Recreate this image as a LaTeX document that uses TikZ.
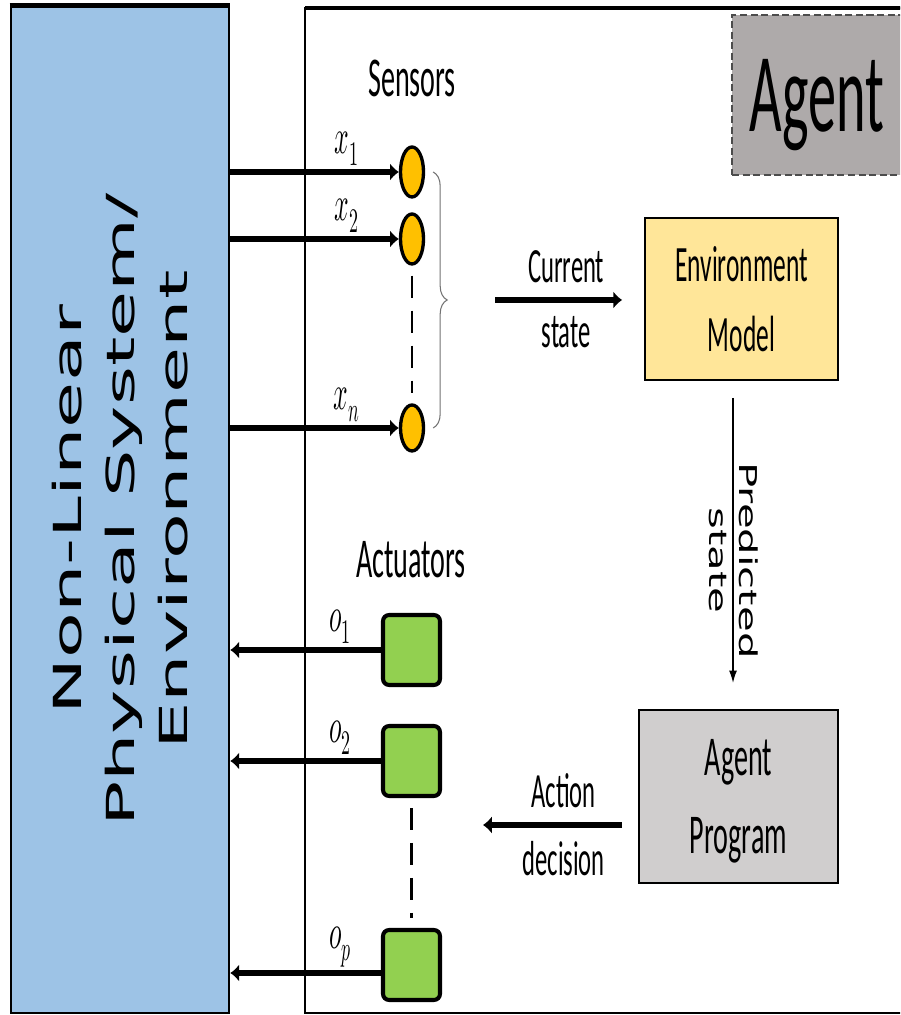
\documentclass[tikz,border=0pt]{standalone}
\usepackage{fontspec}
\usepackage{unicode-math}
\usepackage{graphicx}
\setmainfont{Carlito}[FakeStretch=0.5]
\newfontfamily\envfont{DejaVu Sans}[FakeStretch=1.94]
\newfontfamily\predfont{DejaVu Sans}[FakeStretch=1.7]
\usetikzlibrary{arrows.meta,shapes.geometric,decorations.pathreplacing}
\definecolor{envblue}{HTML}{9DC3E6}
\definecolor{sensorange}{HTML}{FFC000}
\definecolor{actgreen}{HTML}{92D050}
\definecolor{modelyellow}{HTML}{FFE699}
\definecolor{proggray}{HTML}{D0CECE}
\definecolor{taggray}{HTML}{AEAAAA}
\newcommand{\sig}[1]{\scalebox{0.52}[1]{$#1$}}
\tikzset{
  sensor/.style={draw,ellipse,line width=1.9pt,fill=sensorange,inner sep=0pt,minimum width=0.46cm,minimum height=1cm},
  actuator/.style={draw,line width=2.3pt,fill=actgreen,rounded corners=3.5pt,minimum width=1.14cm,minimum height=1.4cm},
  block/.style={draw,line width=1pt,align=center},
  bigarrow/.style={line width=3pt,-{Latex[length=5pt,width=10pt]}},
  thinarrow/.style={line width=0.8pt,-{Latex[length=7pt,width=4.5pt]}},
  caption/.style={font=\fontsize{28}{30}\selectfont,inner sep=8pt},
  siglabel/.style={font=\fontsize{28}{30}\selectfont,inner sep=2pt},
  gaps/.style={line width=1.2pt,dash pattern=on 12.5pt off 7.4pt,shorten <=0.2cm,shorten >=0.2cm},
}
\begin{document}
\begin{tikzpicture}
\useasboundingbox (0,0) rectangle (18,20.3);
\fill[white] (0,0) rectangle (18,20.3);
\clip (0,0) rectangle (18,20.3);
% environment and agent frame
\node[draw,line width=1.5pt,fill=envblue,minimum width=4.36cm,minimum height=20.12cm] (env) at (2.4,10.1) {};
\draw[line width=2.8pt] (env.north west) -- (env.north east);
\node[rotate=90,align=center,font=\envfont\fontsize{22}{30}\selectfont] (envlbl) at (env.center) {Non-Linear\\Physical System/\\Environment};
\draw[line width=1.5pt] (6.1,0.04) rectangle (18.5,20.14);
\draw[line width=2.8pt] (6.1,20.14) -- (18.5,20.14);
\node[draw=black!70,dash pattern=on 4pt off 2pt,line width=1pt,fill=taggray,minimum width=3.4cm,minimum height=3.2cm,text depth=0pt,font=\fontsize{64}{70}\selectfont] (tag) at (16.34,18.4) {Agent};
% sensors
\node[font=\fontsize{32}{38}\selectfont] (senslbl) at (8.24,18.74) {Sensors};
\node[sensor] (s1) at (8.24,16.86) {};
\node[sensor] (s2) at (8.24,15.52) {};
\node[sensor,minimum height=0.92cm] (s3) at (8.24,11.74) {};
\draw[bigarrow] (env.east |- s1) -- (s1.west) node[pos=0.69,above,siglabel] (x1) {\sig{x_1}};
\draw[bigarrow] (env.east |- s2) -- (s2.west) node[pos=0.69,above,siglabel] (x2) {\sig{x_2}};
\draw[bigarrow] (env.east |- s3) -- (s3.west) node[pos=0.69,above,siglabel] (xn) {\sig{x_n}};
\draw[gaps] (s2.south) -- (s3.north);
\draw[black!55,line width=0.6pt,decorate,decoration={brace,amplitude=0.28cm}] ([xshift=0.16cm]s1.east) -- ([xshift=0.16cm]s3.east);
% model and program
\node[block,fill=modelyellow,minimum width=3.86cm,minimum height=3.24cm,font=\fontsize{29}{40}\selectfont] (model) at (14.83,14.32) {Environment\\Model};
\node[block,fill=proggray,minimum width=3.98cm,minimum height=3.46cm,text depth=0pt,font=\fontsize{32}{44}\selectfont] (prog) at (14.77,4.37) {Agent\\Program};
\coordinate (curstart) at (9.9,14.3);
\draw[bigarrow] (curstart) -- ([xshift=-0.44cm]model.west |- curstart)
  node[pos=0.56,above,caption] (cur1) {Current}
  node[pos=0.56,below,caption] (cur2) {state};
\coordinate (predtop) at (14.66,12.34);
\coordinate (predbot) at (14.66,6.64);
\draw[thinarrow] (predtop) -- (predbot)
  node[pos=0.57,rotate=-90,anchor=south,font=\predfont\fontsize{14}{16}\selectfont] (pred1) {Predicted}
  node[pos=0.57,rotate=-90,anchor=north,font=\predfont\fontsize{14}{16}\selectfont] (pred2) {state};
\coordinate (actstart) at (12.44,3.8);
\coordinate (actend) at (9.66,3.8);
\draw[bigarrow] (actstart) -- (actend)
  node[pos=0.42,above,caption] (act1) {Action}
  node[pos=0.42,below,caption] (act2) {decision};
% actuators
\node[font=\fontsize{32}{38}\selectfont] (actlbl) at (8.22,9.1) {Actuators};
\node[actuator] (a1) at (8.23,7.3) {};
\node[actuator] (a2) at (8.23,5.08) {};
\node[actuator] (a3) at (8.23,1.0) {};
\coordinate (a3out) at ([yshift=-0.16cm]a3.west);
\draw[bigarrow] (a1.west) -- (env.east |- a1.west) node[pos=0.27,above,siglabel] (o1) {\sig{o_1}};
\draw[bigarrow] (a2.west) -- (env.east |- a2.west) node[pos=0.27,above,siglabel] (o2) {\sig{o_2}};
\draw[bigarrow] (a3out) -- (env.east |- a3out) node[pos=0.27,above,siglabel] (op) {\sig{o_p}};
\draw[gaps] (a2.south) -- (a3.north);
\end{tikzpicture}
\end{document}
